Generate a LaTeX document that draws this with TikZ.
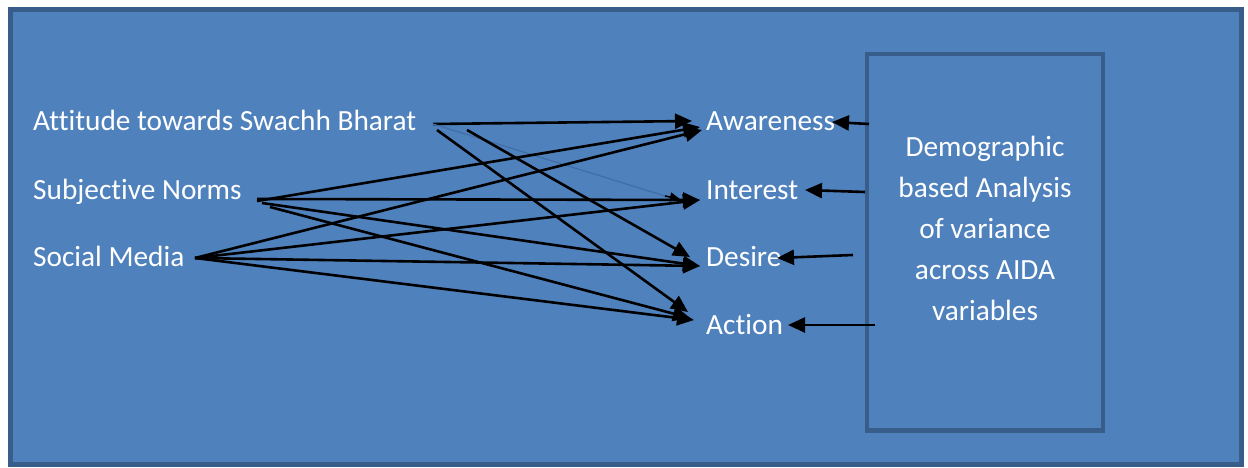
\documentclass[tikz,border=0pt]{standalone}
\usepackage{fontspec}
\setmainfont{Carlito}[Ligatures={NoCommon}]
\usetikzlibrary{arrows.meta}
\definecolor{bgblue}{RGB}{79,129,189}
\definecolor{edgeblue}{RGB}{56,93,138}
\definecolor{faintblue}{RGB}{66,110,165}
\tikzset{
  lbl/.style={anchor=base west, inner sep=0pt, text=white, font=\fontsize{29.3}{41}\selectfont},
  arr/.style={line width=2.6pt, draw=black, -{Triangle[length=17pt,width=15pt]}},
  faint/.style={line width=1.2pt, draw=faintblue},
  smallhead/.style={line width=1.6pt, draw=black, -{Triangle[length=10pt,width=9pt]}}
}
\begin{document}
\begin{tikzpicture}[x=1pt,y=-1pt]
\useasboundingbox (0,0) rectangle (1248,468);
\draw[fill=bgblue, draw=edgeblue, line width=5pt] (10.5,10) rectangle (1241.5,464.5);
\draw[draw=edgeblue, line width=4.5pt] (867,54) rectangle (1103,430.5);

% labels
\node[lbl] (att) at (33,131) {Attitude towards Swachh Bharat};
\node[lbl] (sub) at (33,199) {Subjective Norms};
\node[lbl] (soc) at (33,266) {Social Media};
\node[lbl] (awa) at (706,131) {Awareness};
\node[lbl] (int) at (706,199) {Interest};
\node[lbl] (des) at (706,266) {Desire};
\node[lbl] (act) at (706,334) {Action};
\node[inner sep=0pt, text=white, align=center, font=\fontsize{29.3}{41}\selectfont] (demo) at (985,228)
  {Demographic\\based Analysis\\of variance\\across AIDA\\variables};

% source points
\coordinate (a1) at (433,124);
\coordinate (a2) at (437,130);
\coordinate (a3) at (467,130);
\coordinate (s1) at (257,199);
\coordinate (s2) at (257,201);
\coordinate (s3) at (262,203);
\coordinate (s4) at (270,207);
\coordinate (m)  at (195,258);
% target points
\coordinate (aw1) at (692,121);
\coordinate (aw2) at (700,127);
\coordinate (aw3) at (702,130);
\coordinate (in1) at (700,200);
\coordinate (inF) at (665,196);
\coordinate (inFh) at (680,199);
\coordinate (de1) at (690,257);
\coordinate (de2) at (700,266);
\coordinate (ac1) at (688,312);
\coordinate (ac2) at (690,318);
\coordinate (ac3) at (694,320);
% box side points
\coordinate (b1) at (869,124);
\coordinate (b2) at (865,192);
\coordinate (b3) at (853,255);
\coordinate (b4) at (875,325);
\coordinate (t1) at (832,122);
\coordinate (t2) at (805,190);
\coordinate (t3) at (777,258);
\coordinate (t4) at (788,325);

% attitude
\draw[arr] (a1) -- (aw1);
\draw[faint] (a1) -- (inF);
\draw[smallhead] (inF) -- (inFh);
\draw[arr] (a3) -- (de1);
\draw[arr] (a2) -- (ac1);
% subjective norms
\draw[arr] (s2) -- (aw2);
\draw[arr] (s1) -- (in1);
\draw[arr] (s3) -- (de2);
\draw[arr] (s4) -- (ac2);
% social media
\draw[arr] (m) -- (aw3);
\draw[arr] (m) -- (in1);
\draw[arr] (m) -- (de2);
\draw[arr] (m) -- (ac3);
% demographic box
\draw[arr] (b1) -- (t1);
\draw[arr] (b2) -- (t2);
\draw[arr] (b3) -- (t3);
\draw[arr] (b4) -- (t4);
\end{tikzpicture}
\end{document}
